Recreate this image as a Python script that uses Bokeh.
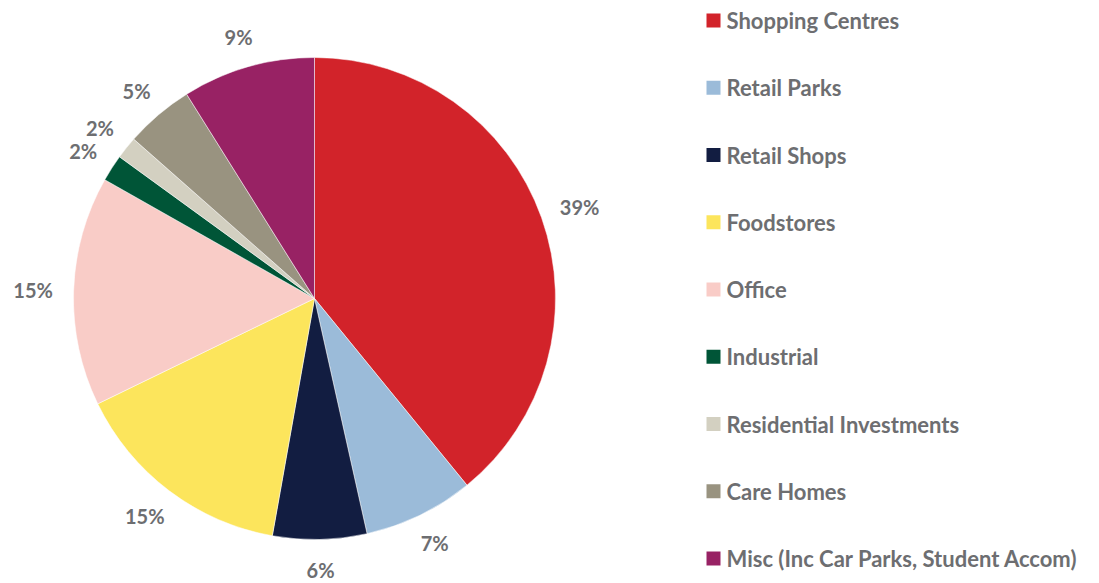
import math
from bokeh.plotting import figure
from bokeh.models import Range1d, ColumnDataSource
from bokeh.core.properties import value
from bokeh.embed import file_html
from bokeh.resources import INLINE

categories = ["Shopping Centres", "Retail Parks", "Retail Shops", "Foodstores", "Office",
              "Industrial", "Residential Investments", "Care Homes",
              "Misc (Inc Car Parks, Student Accom)"]
shares = [39.1, 7.4, 6.3, 15.0, 15.4, 1.8, 1.5, 4.6, 8.9]
labels = ["39%", "7%", "6%", "15%", "15%", "2%", "2%", "5%", "9%"]
colors = ["#d2232a", "#9bbbd9", "#121d41", "#fce55c", "#f9ccc7",
          "#005537", "#d3d0c1", "#999380", "#982264"]
source_note = "Savills Research"

W, H = 1099, 583
TXT = "#6d6e71"
FONT = value("Lato")

# data coords == picture pixel coords (x right, y up measured from bottom edge)
def py(y_img):
    return H - y_img

p = figure(width=W, height=H, output_backend="svg", toolbar_location=None,
           x_range=Range1d(0, W), y_range=Range1d(0, H),
           min_border=0, outline_line_color=None)
p.axis.visible = False
p.grid.visible = False

cx, cy, R = 314, py(298), 241
GAP, BOX_H = 21, 20
total = sum(shares)
starts, ends, lx, ly = [], [], [], []
cum = 0.0
for s, lab in zip(shares, labels):
    a0 = math.pi / 2 - 2 * math.pi * cum / total
    cum += s
    a1 = math.pi / 2 - 2 * math.pi * cum / total
    starts.append(a1)
    ends.append(a0)
    mid = (a0 + a1) / 2
    c, sn = math.cos(mid), math.sin(mid)
    bw = 13 * len(lab)  # approx label box width
    lx.append(cx + (R + GAP) * c + c * bw / 2)
    ly.append(cy + (R + GAP) * sn + sn * BOX_H / 2)

src = ColumnDataSource(dict(start=starts, end=ends, color=colors, lx=lx, ly=ly, lab=labels))
p.wedge(x=cx, y=cy, radius=R, start_angle="start", end_angle="end",
        fill_color="color", line_color="white", line_width=0.5, source=src)
p.text(x="lx", y="ly", text="lab", source=src, text_font=FONT, text_font_style="bold",
       text_font_size="20px", text_color=TXT, text_align="center", text_baseline="middle")

# legend
leg_y = [py(20 + i * 67.25) for i in range(len(categories))]
leg = ColumnDataSource(dict(y=leg_y, color=colors, name=categories))
p.rect(x=713, y="y", width=14, height=14, fill_color="color", line_color=None, source=leg)
p.text(x=726, y="y", text="name", source=leg, text_font=FONT, text_font_style="bold",
       text_font_size="22px", text_color=TXT, text_align="left", text_baseline="middle")

# source note (mostly below the visible area, as in the reference)
p.text(x=[0], y=[py(577)], text=[source_note], text_font=FONT, text_font_style="italic",
       text_font_size="20px", text_color="#000000", text_align="left", text_baseline="top")

open("out.html", "w").write(file_html(p, INLINE))
